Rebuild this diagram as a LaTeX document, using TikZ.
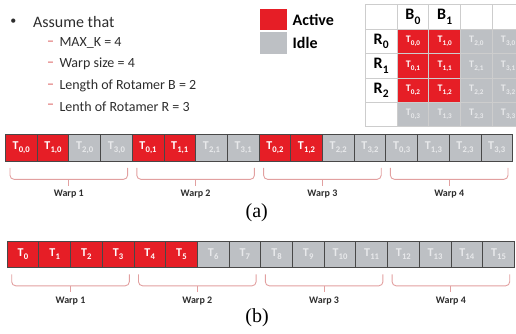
\documentclass[tikz,border=0pt]{standalone}
\usepackage{fontspec}
\usepackage{graphicx}
\setmainfont{Carlito}
\newfontfamily\serifa{Liberation Serif}
\usetikzlibrary{calc}
\definecolor{actred}{RGB}{230,30,38}
\definecolor{idlegray}{RGB}{189,192,196}
\definecolor{idletext}{RGB}{232,233,235}
\definecolor{cellborder}{RGB}{72,72,72}
\definecolor{bracecol}{RGB}{226,160,160}
\definecolor{dashcol}{RGB}{215,80,80}
\definecolor{tableline}{RGB}{205,205,205}
\definecolor{txt}{RGB}{45,45,45}
\newcommand{\Tsub}[2]{#1\kern0.2pt\raisebox{-0.28em}{\scalebox{0.72}{#2}}}
\begin{document}
\begin{tikzpicture}[x=1pt,y=-1pt,
  cell/.style={draw=cellborder, line width=0.8pt, minimum width=31.7pt, minimum height=26.5pt,
    inner sep=0pt, anchor=north west, font=\bfseries\fontsize{12}{12}\selectfont},
  act/.style={cell, fill=actred, text=white},
  idle/.style={cell, fill=idlegray, text=idletext},
  tcell/.style={draw=tableline, line width=0.8pt, minimum width=31.7pt, minimum height=24.3pt,
    inner sep=0pt, anchor=north west, font=\bfseries\fontsize{10}{10}\selectfont},
  tact/.style={tcell, fill=actred, text=white},
  tidle/.style={tcell, fill=idlegray, text=idletext},
  thead/.style={tcell, fill=white, text=black, font=\bfseries\fontsize{16}{16}\selectfont},
  brace/.style={draw=bracecol, line width=0.9pt, rounded corners=4pt},
  warplbl/.style={font=\bfseries\fontsize{10}{10}\selectfont, text=txt},
  item/.style={anchor=west, font=\fontsize{14}{14}\selectfont, text=txt, inner sep=0pt},
  dashm/.style={font=\fontsize{14}{14}\selectfont, text=dashcol, inner sep=0pt},
  sublbl/.style={font=\serifa\fontsize{20}{20}\selectfont}
]
\useasboundingbox (0,0) rectangle (516,333);

% bullet list
\node[font=\fontsize{12}{12}\selectfont, text=txt] (bul) at (13.3,22) {\textbullet};
\node[anchor=west, font=\fontsize{16}{16}\selectfont, text=txt, inner sep=0pt] (assume) at (33,22) {Assume that};
\node[dashm] (d1) at (50.5,43.3) {\textendash};
\node[item] (i1) at (59.3,43.3) {MAX\_K = 4};
\node[dashm] (d2) at (50.5,64.3) {\textendash};
\node[item] (i2) at (59.3,64.3) {Warp size = 4};
\node[dashm] (d3) at (50.5,86) {\textendash};
\node[item] (i3) at (59.3,86) {Length of Rotamer B = 2};
\node[dashm] (d4) at (50.5,106.7) {\textendash};
\node[item] (i4) at (59.3,106.7) {Lenth of Rotamer R = 3};

% legend
\node[fill=actred, minimum width=27pt, minimum height=21.5pt, inner sep=0pt] (actbox) at (273.5,19.5) {};
\node[fill=idlegray, minimum width=27pt, minimum height=21.5pt, inner sep=0pt] (idlebox) at (273.5,43) {};
\node[anchor=west, inner sep=0pt, font=\bfseries\fontsize{16}{16}\selectfont] (actlbl) at (292.5,20) {Active};
\node[anchor=west, inner sep=0pt, font=\bfseries\fontsize{16}{16}\selectfont] (idlelbl) at (292.5,43) {Idle};

% table
\node[thead, minimum height=25pt] (h0) at (365,4) {};
\node[thead, minimum height=25pt] (h1) at (396.7,4) {\Tsub{B}{0}};
\node[thead, minimum height=25pt] (h2) at (428.4,4) {\Tsub{B}{1}};
\node[thead, minimum height=25pt] (h3) at (460.1,4) {};
\node[thead, minimum height=25pt] (h4) at (491.8,4) {};
\foreach \r in {0,1,2,3}{
  \pgfmathsetmacro{\yy}{29+\r*24.3}
  \ifnum\r<3
    \node[thead] (r\r) at (365,\yy) {\Tsub{R}{\r}};
  \else
    \node[thead] (r\r) at (365,\yy) {};
  \fi
  \foreach \c in {0,1,2,3}{
    \pgfmathsetmacro{\xx}{396.7+\c*31.7}
    \pgfmathtruncatemacro{\isact}{(\c<2)&&(\r<3)}
    \ifnum\isact=1
      \node[tact] (t\c\r) at (\xx,\yy) {\Tsub{T}{\c,\r}};
    \else
      \node[tidle] (t\c\r) at (\xx,\yy) {\Tsub{T}{\c,\r}};
    \fi
  }
}

% row (a)
\foreach \i in {0,...,15}{
  \pgfmathtruncatemacro{\w}{int(\i/4)}
  \pgfmathtruncatemacro{\t}{mod(\i,4)}
  \pgfmathsetmacro{\xx}{5+\i*31.7}
  \pgfmathtruncatemacro{\isact}{(\t<2)&&(\w<3)}
  \ifnum\isact=1
    \node[act] (a\i) at (\xx,134) {\Tsub{T}{\t,\w}};
  \else
    \node[idle] (a\i) at (\xx,134) {\Tsub{T}{\t,\w}};
  \fi
}
% row (b)
\foreach \i in {0,...,15}{
  \pgfmathsetmacro{\xx}{6.7+\i*31.7}
  \ifnum\i<6
    \node[act] (b\i) at (\xx,240.5) {\Tsub{T}{\i}};
  \else
    \node[idle] (b\i) at (\xx,240.5) {\Tsub{T}{\i}};
  \fi
}

% warp braces
\foreach \row in {a,b}{
  \foreach \w in {0,1,2,3}{
    \pgfmathtruncatemacro{\l}{4*\w}
    \pgfmathtruncatemacro{\r}{4*\w+3}
    \pgfmathtruncatemacro{\n}{\w+1}
    \coordinate (\row wl\w) at ($(\row\l.south west)+(5,6.5)$);
    \coordinate (\row wr\w) at ($(\row\r.south east)+(-5,6.5)$);
    \coordinate (\row wc\w) at ($(\row\l.south west)!0.5!(\row\r.south east)$);
    \coordinate (\row wm\w) at ($(\row wc\w)+(0,18)$);
    \coordinate (\row wt\w) at ($(\row wc\w)+(0,24.5)$);
    \draw[brace] (\row wl\w) |- (\row wm\w) -| (\row wr\w);
    \draw[brace] (\row wm\w) -- (\row wt\w);
    \node[warplbl] (\row wlbl\w) at ($(\row wc\w)+(0,33)$) {Warp \n};
  }
}

\node[sublbl] (capa) at (256.7,213) {(a)};
\node[sublbl] (capb) at (257,318) {(b)};
\end{tikzpicture}
\end{document}
